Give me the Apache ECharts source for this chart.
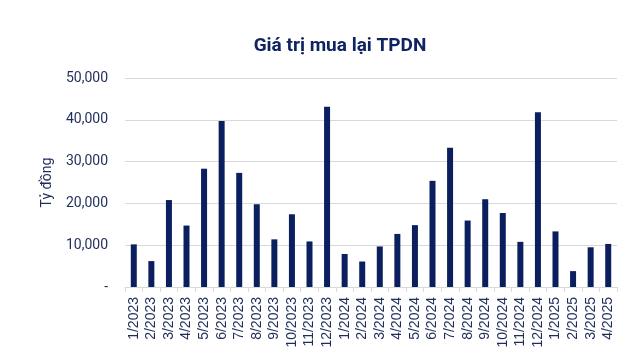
<!DOCTYPE html>
<html><head><meta charset="utf-8">
<script src="https://cdn.jsdelivr.net/npm/echarts@6/dist/echarts.min.js"></script>
<style>html,body{margin:0;padding:0;background:#fff}#c{width:640px;height:359px}</style>
</head><body><div id="c"></div>
<script>
const categories = ['1/2023','2/2023','3/2023','4/2023','5/2023','6/2023','7/2023','8/2023','9/2023','10/2023','11/2023','12/2023','1/2024','2/2024','3/2024','4/2024','5/2024','6/2024','7/2024','8/2024','9/2024','10/2024','11/2024','12/2024','1/2025','2/2025','3/2025','4/2025'];
const values = [10200,6200,20800,14700,28300,39700,27300,19800,11400,17400,10900,43100,7900,6100,9700,12700,14800,25400,33300,15900,21000,17700,10800,41800,13300,3800,9500,10300];
const yTicks = [0,10000,20000,30000,40000,50000];
const navy = '#0B1F5E';
const chart = echarts.init(document.getElementById('c'));
chart.setOption({
  animation:false,
  title:{text:'Giá trị mua lại TPDN',left:335,top:32,textAlign:'center',
    textStyle:{fontFamily:'Roboto',fontWeight:'bold',fontSize:19,color:'#0F2462'}},
  grid:{left:125,right:23,top:78,bottom:72},
  xAxis:{type:'category',data:categories,boundaryGap:true,
    axisLine:{lineStyle:{color:'#D9D9D9',width:1}},
    axisTick:{show:true,lineStyle:{color:'#D9D9D9'},length:5},
    axisLabel:{rotate:90,interval:0,fontFamily:'Liberation Sans',fontSize:14,color:'#1F2D5A',margin:10}},
  yAxis:{type:'value',min:yTicks[0],max:yTicks[yTicks.length-1],interval:10000,
    name:'Tỷ đồng',nameLocation:'middle',nameGap:71,nameRotate:90,
    nameTextStyle:{fontFamily:'Roboto',fontSize:14,color:'#1F2D5A'},
    axisLine:{show:false},axisTick:{show:false},
    splitLine:{lineStyle:{color:'#D9D9D9',width:1}},
    axisLabel:{fontFamily:'Roboto',fontSize:14,color:'#1F2D5A',margin:17,
      formatter:v=>v===0?'-':v.toLocaleString('en-US')}},
  series:[{type:'bar',data:values,barWidth:6,itemStyle:{color:navy}}]
});
</script></body></html>
